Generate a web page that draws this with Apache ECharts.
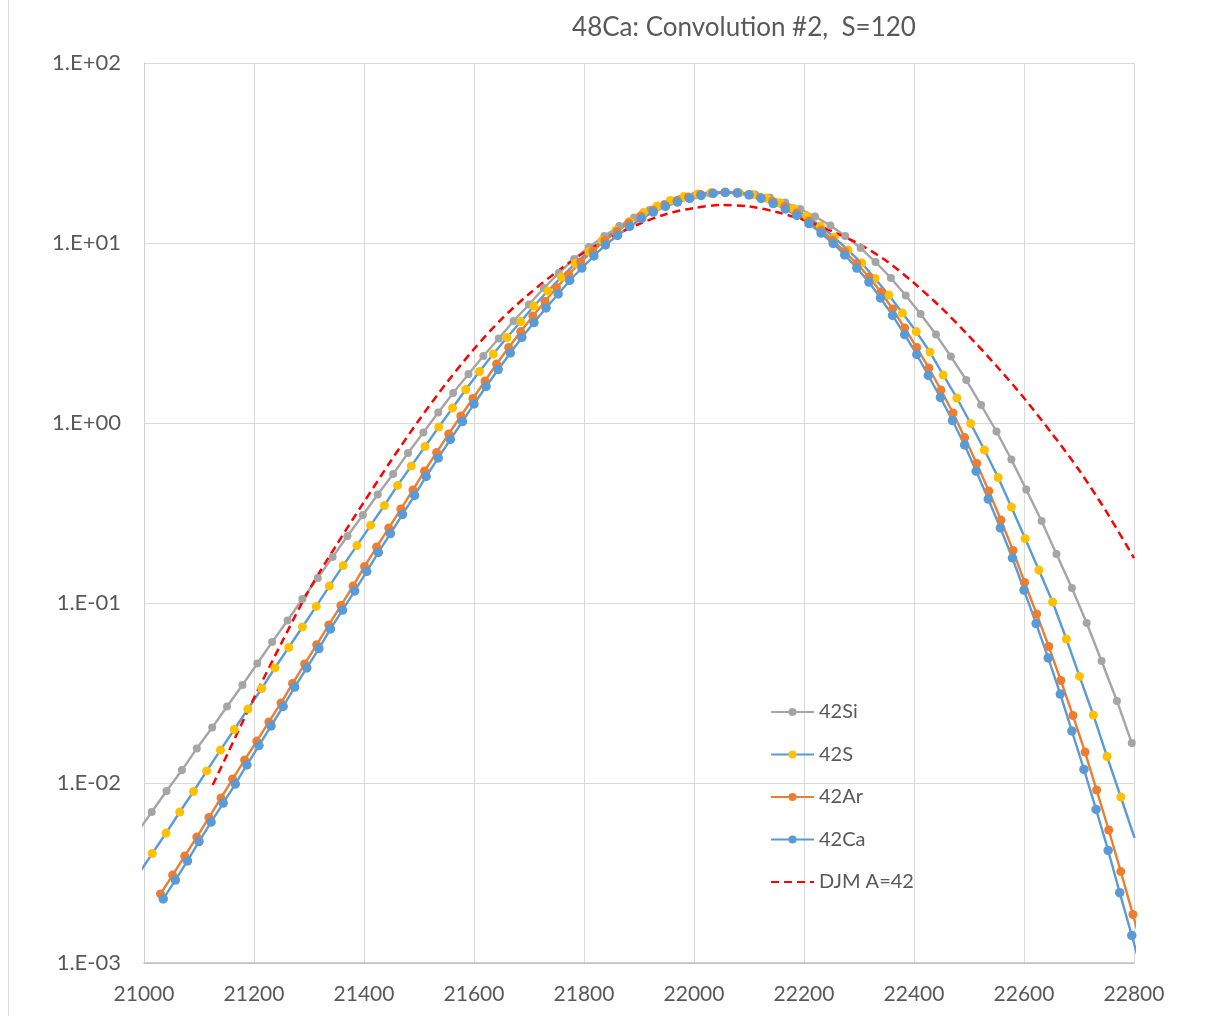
<!DOCTYPE html>
<html>
<head>
<meta charset="utf-8">
<script src="https://cdn.jsdelivr.net/npm/echarts@6/dist/echarts.min.js"></script>
<style>
  html, body { margin: 0; padding: 0; background: #ffffff; }
  #chart { width: 1229px; height: 1016px; }
</style>
</head>
<body>
<div id="chart"></div>
<script>
// Axis tick labels
const xTicks = [21000, 21200, 21400, 21600, 21800, 22000, 22200, 22400, 22600, 22800];
const yTickLabels = ['1.E-03', '1.E-02', '1.E-01', '1.E+00', '1.E+01', '1.E+02'];

// 42Si
const x42Si = [20987, 21014, 21041, 21069, 21096, 21124, 21151, 21179, 21206, 21233,
  21261, 21288, 21316, 21343, 21370, 21398, 21425, 21453, 21480, 21508,
  21535, 21562, 21590, 21617, 21645, 21672, 21700, 21727, 21754, 21782,
  21809, 21837, 21864, 21891, 21919, 21946, 21974, 22001, 22029, 22056,
  22083, 22111, 22138, 22166, 22193, 22220, 22248, 22275, 22303, 22330,
  22358, 22385, 22412, 22440, 22467, 22495, 22522, 22550, 22577, 22604,
  22632, 22659, 22687, 22714, 22741, 22769, 22796];
const y42Si = [0.00527, 0.0069, 0.00903, 0.0118, 0.01556, 0.02032, 0.02661, 0.035, 0.0461, 0.0607,
  0.080, 0.1052, 0.1377, 0.1803, 0.2355, 0.3083, 0.401, 0.521, 0.681, 0.885,
  1.143, 1.468, 1.871, 2.355, 2.946, 3.69, 4.55, 5.62, 6.81, 8.15,
  9.50, 10.94, 12.42, 13.86, 15.25, 16.47, 17.55, 18.36, 18.84, 19.08,
  18.96, 18.60, 17.90, 16.79, 15.45, 14.03, 12.51, 10.94, 9.38, 7.84,
  6.39, 5.11, 4.03, 3.10, 2.340, 1.733, 1.259, 0.897, 0.627, 0.427,
  0.2856, 0.1871, 0.1211, 0.0774, 0.0476, 0.02856, 0.01667];

// 42S
const x42S = [20990, 21015, 21040, 21065, 21090, 21114, 21139, 21164, 21189, 21214,
  21238, 21263, 21288, 21313, 21337, 21362, 21387, 21412, 21437, 21461,
  21486, 21511, 21536, 21561, 21585, 21610, 21635, 21660, 21685, 21709,
  21734, 21759, 21784, 21809, 21833, 21858, 21883, 21908, 21933, 21957,
  21982, 22007, 22032, 22057, 22081, 22106, 22131, 22156, 22181, 22205,
  22230, 22255, 22280, 22305, 22329, 22354, 22379, 22404, 22429, 22453,
  22478, 22503, 22528, 22553, 22577, 22602, 22627, 22652, 22677, 22701,
  22726, 22751, 22776, 22801];
const y42S = [0.00312, 0.00406, 0.00527, 0.0069, 0.00897, 0.01167, 0.01524, 0.01982, 0.02576, 0.0335,
  0.0436, 0.0566, 0.0736, 0.0957, 0.1242, 0.1614, 0.2085, 0.270, 0.348, 0.450,
  0.577, 0.740, 0.950, 1.211, 1.535, 1.932, 2.417, 2.985, 3.66, 4.47,
  5.41, 6.47, 7.69, 8.97, 10.33, 11.73, 13.16, 14.76, 16.06, 17.22,
  18.13, 18.72, 19.08, 19.20, 19.08, 18.60, 17.78, 16.75, 15.55, 14.13,
  12.42, 10.76, 9.14, 7.74, 6.35, 5.14, 4.08, 3.22, 2.479, 1.849,
  1.377, 0.994, 0.708, 0.498, 0.341, 0.228, 0.1525, 0.1013, 0.0631, 0.0391,
  0.02387, 0.01403, 0.00836, 0.00495];

// 42Ar
const x42Ar = [21030, 21052, 21074, 21096, 21118, 21140, 21161, 21183, 21205, 21227,
  21249, 21270, 21292, 21314, 21336, 21358, 21380, 21401, 21423, 21445,
  21467, 21489, 21510, 21532, 21554, 21576, 21598, 21620, 21641, 21663,
  21685, 21707, 21729, 21750, 21772, 21794, 21816, 21838, 21860, 21881,
  21903, 21925, 21947, 21969, 21990, 22012, 22034, 22056, 22078, 22100,
  22121, 22143, 22165, 22187, 22209, 22231, 22252, 22274, 22296, 22318,
  22340, 22361, 22383, 22405, 22427, 22449, 22471, 22492, 22514, 22536,
  22558, 22580, 22601, 22623, 22645, 22667, 22689, 22711, 22732, 22754,
  22776, 22798, 22820];
const y42Ar = [0.00242, 0.00308, 0.00393, 0.00501, 0.00643, 0.00826, 0.01052, 0.01343, 0.0171, 0.02183,
  0.0278, 0.0357, 0.0458, 0.0587, 0.0755, 0.0968, 0.1242, 0.1596, 0.2046, 0.2612,
  0.3327, 0.4246, 0.541, 0.686, 0.869, 1.094, 1.368, 1.711, 2.128, 2.626,
  3.22, 3.93, 4.73, 5.66, 6.68, 7.84, 9.03, 10.33, 11.58, 12.92,
  14.13, 15.25, 16.26, 17.22, 18.01, 18.60, 18.96, 19.08, 18.96, 18.60,
  17.90, 17.01, 15.95, 14.68, 13.25, 11.81, 10.39, 8.97, 7.69, 6.47,
  5.34, 4.30, 3.37, 2.626, 2.021, 1.524, 1.137, 0.830, 0.596, 0.419,
  0.289, 0.196, 0.1300, 0.0869, 0.0573, 0.0371, 0.0237, 0.01486, 0.00914, 0.00548,
  0.00322, 0.00186, 0.001066];

// 42Ca
const x42Ca = [21035, 21057, 21079, 21100, 21122, 21144, 21166, 21187, 21209, 21231,
  21253, 21274, 21296, 21318, 21339, 21361, 21383, 21405, 21426, 21448,
  21470, 21492, 21513, 21535, 21557, 21579, 21600, 21622, 21644, 21666,
  21687, 21709, 21731, 21753, 21774, 21796, 21818, 21839, 21861, 21883,
  21905, 21926, 21948, 21970, 21992, 22013, 22035, 22057, 22079, 22100,
  22122, 22144, 22166, 22187, 22209, 22231, 22253, 22274, 22296, 22318,
  22339, 22361, 22383, 22405, 22426, 22448, 22470, 22492, 22513, 22535,
  22557, 22579, 22600, 22622, 22644, 22666, 22687, 22709, 22731, 22753,
  22774, 22796, 22818];
const y42Ca = [0.00227, 0.00289, 0.00369, 0.00473, 0.00607, 0.00774, 0.00987, 0.01259, 0.01614, 0.02075,
  0.02661, 0.0341, 0.0436, 0.0558, 0.0718, 0.0914, 0.1167, 0.1496, 0.1910, 0.2432,
  0.3105, 0.3957, 0.5045, 0.6397, 0.810, 1.019, 1.276, 1.595, 1.982, 2.448,
  2.985, 3.616, 4.355, 5.21, 6.19, 7.26, 8.47, 9.75, 11.01, 12.35,
  13.68, 14.86, 15.95, 16.89, 17.67, 18.36, 18.84, 19.08, 18.96, 18.48,
  17.67, 16.57, 15.45, 14.22, 12.83, 11.36, 9.94, 8.58, 7.26, 6.07,
  4.95, 3.96, 3.10, 2.402, 1.836, 1.386, 1.032, 0.755, 0.541, 0.378,
  0.261, 0.1778, 0.1180, 0.0769, 0.0495, 0.0312, 0.01945, 0.01189, 0.00713, 0.00422,
  0.00246, 0.001422, 0.000809];

// DJM A=42
const xDJM = [21125, 21150, 21200, 21250, 21300, 21350, 21400, 21450, 21500, 21550,
  21600, 21650, 21700, 21750, 21800, 21850, 21900, 21950, 22000, 22050,
  22100, 22150, 22200, 22250, 22300, 22350, 22400, 22450, 22500, 22550,
  22600, 22650, 22700, 22750, 22800];
const yDJM = [0.00975, 0.01413, 0.02966, 0.0600, 0.1180, 0.2101, 0.364, 0.623, 1.039, 1.668,
  2.576, 3.78, 5.21, 6.90, 8.86, 10.80, 12.75, 14.50, 15.65, 16.26,
  15.95, 14.86, 13.42, 11.66, 9.87, 7.94, 5.99, 4.355, 3.04, 2.074,
  1.377, 0.880, 0.548, 0.3206, 0.1778];

const FONT = 'Lato, "Open Sans", sans-serif';
const TEXT = '#595959';

function pairs(xs, ys) {
  return xs.map((x, i) => [x, ys[i]]);
}

function markerSeries(name, xs, ys, lineColor, markColor, size) {
  return {
    name: name,
    type: 'line',
    data: pairs(xs, ys),
    symbol: 'circle',
    symbolSize: size,
    showSymbol: true,
    clip: true,
    lineStyle: { color: lineColor, width: 2.4 },
    itemStyle: { color: markColor, borderWidth: 0 },
    emphasis: { disabled: true },
    animation: false
  };
}

const chart = echarts.init(document.getElementById('chart'), null, { renderer: 'canvas' });

chart.setOption({
  backgroundColor: '#ffffff',
  animation: false,
  textStyle: { fontFamily: FONT },
  title: {
    text: '48Ca: Convolution #2,  S=120',
    left: 739,
    top: 10,
    textAlign: 'center',
    textStyle: { fontFamily: FONT, fontSize: 26, fontWeight: 'normal', color: TEXT }
  },
  graphic: [{
    type: 'line',
    shape: { x1: 8.5, y1: 0, x2: 8.5, y2: 1016 },
    style: { stroke: '#d9d9d9', lineWidth: 1 },
    silent: true
  }],
  grid: { left: 144, right: 95, top: 63, bottom: 53, containLabel: false },
  legend: {
    orient: 'vertical',
    left: 770,
    top: 701,
    padding: 0,
    itemWidth: 43,
    itemHeight: 10,
    itemGap: 20.5,
    textStyle: { fontFamily: FONT, fontSize: 20, color: TEXT, lineHeight: 22 },
    data: [
      '42Si', '42S', '42Ar', '42Ca',
      { name: 'DJM A=42', itemStyle: { opacity: 0 } }
    ]
  },
  xAxis: {
    type: 'value',
    min: xTicks[0],
    max: xTicks[xTicks.length - 1],
    interval: xTicks[1] - xTicks[0],
    axisLine: { show: true, lineStyle: { color: '#bfbfbf', width: 1.5 } },
    axisTick: { show: false },
    splitLine: { show: true, lineStyle: { color: '#d9d9d9', width: 1 } },
    axisLabel: {
      color: TEXT, fontFamily: FONT, fontSize: 21, margin: 21,
      showMinLabel: true, showMaxLabel: true,
      formatter: v => String(v)
    }
  },
  yAxis: {
    type: 'log',
    logBase: 10,
    min: 0.001,
    max: 100,
    splitNumber: 5,
    axisLine: { show: true, lineStyle: { color: '#d0d0d0', width: 1 } },
    axisTick: { show: false },
    splitLine: { show: true, lineStyle: { color: '#d9d9d9', width: 1 } },
    minorTick: { show: false },
    axisLabel: {
      color: TEXT, fontFamily: FONT, fontSize: 22, margin: 23,
      formatter: v => yTickLabels[Math.round(Math.log10(v)) + 3] || ''
    }
  },
  series: [
    markerSeries('42Si', x42Si, y42Si, '#a5a5a5', '#a5a5a5', 8),
    markerSeries('42S', x42S, y42S, '#5b9bd5', '#ffc000', 9),
    markerSeries('42Ar', x42Ar, y42Ar, '#ed7d31', '#ed7d31', 9),
    markerSeries('42Ca', x42Ca, y42Ca, '#5b9bd5', '#5b9bd5', 9.5),
    {
      name: 'DJM A=42',
      type: 'line',
      data: pairs(xDJM, yDJM),
      symbol: 'none',
      smooth: 0.3,
      clip: true,
      lineStyle: { color: '#ff0000', width: 2.5, type: [8, 5] },
      itemStyle: { color: '#ff0000' },
      emphasis: { disabled: true },
      animation: false
    }
  ]
});
</script>
</body>
</html>
